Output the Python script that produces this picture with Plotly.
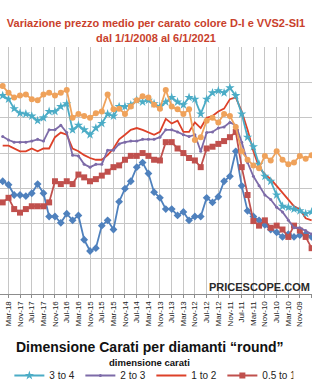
import plotly.graph_objects as go
import pandas as pd

# bimonthly observation dates (first of odd months), Jul-2009 .. May-2018
dates = pd.date_range("2009-07-01", "2018-05-01", freq="2MS")

# % change in average price per carat
s_small = [-33.8,-33.0,-33.3,-33.8,-33.0,-33.8,-32.5,-31.7,-30.4,-29.1,-28.0,-26.4,-19.3,-9.5,-16.6,-18.0,-22.4,-24.0,-22.7,-28.0,
           -28.0,-29.1,-26.7,-27.7,-25.9,-25.9,-22.7,-21.1,-15.8,-12.7,-14.0,-18.0,-20.1,-23.8,-31.7,-29.1,-30.6,-37.0,-37.8,-34.6,
           -27.7,-29.1,-27.2,-29.8,-28.0,-28.0,-21.4,-18.8,-21.4,-22.2,-21.9,-21.9,-19.0,-18.0]
s_05_1 = [-37.0,-33.8,-32.0,-30.6,-33.8,-31.7,-30.6,-31.2,-29.1,-30.6,-29.3,-21.9,-14.0,-4.0,-5.5,-6.6,-7.4,-8.2,-8.7,-14.0,
          -12.1,-11.4,-10.0,-8.7,-6.9,-6.9,-12.1,-11.9,-10.8,-10.0,-10.8,-10.8,-11.9,-13.5,-14.0,-15.3,-16.4,-17.4,-18.0,-16.9,
          -16.1,-18.8,-18.0,-18.8,-18.0,-24.0,-25.1,-25.1,-25.1,-25.9,-26.9,-25.9,-22.7,-24.0]
s_1_2 = [-29.1,-28.5,-25.9,-25.1,-23.2,-21.4,-19.3,-17.4,-16.1,-14.0,-9.5,-3.4,1.8,5.8,5.3,2.6,1.8,0.5,0.0,-2.9,
         -1.3,-4.0,-4.0,-0.8,-1.6,-0.3,-4.0,-4.8,-4.0,-3.4,-2.9,-3.4,-4.8,-6.1,-8.7,-10.6,-11.9,-11.9,-11.4,-10.6,
         -9.5,-8.7,-4.8,-4.2,-5.5,-8.7,-8.7,-9.5,-8.7,-9.5,-9.5,-8.7,-7.9,-7.9]
s_2_3 = [-33.0,-32.0,-31.2,-31.2,-29.1,-26.7,-25.4,-23.2,-21.9,-19.3,-16.6,-12.7,-6.9,-2.1,-1.3,-2.6,-2.9,-4.0,-4.2,-9.5,
         -4.8,-5.3,-4.8,-4.0,-3.4,-3.4,-5.5,-6.1,-6.1,-6.1,-6.6,-6.6,-6.9,-7.4,-9.2,-9.2,-13.2,-13.2,-14.0,-13.2,
         -10.8,-10.6,-4.2,-2.1,-3.4,-3.4,-6.6,-6.1,-6.6,-6.9,-6.9,-6.9,-6.3,-5.3]
s_3_4 = [-26.7,-27.2,-26.4,-25.9,-25.4,-25.1,-21.9,-18.0,-16.6,-13.2,-8.2,-5.5,1.1,6.3,8.5,7.1,7.7,7.1,5.3,1.1,
         5.3,5.8,3.7,4.5,5.8,4.5,3.2,4.0,5.0,4.5,5.0,3.7,3.2,3.2,0.5,1.1,-1.6,-2.9,-4.8,-3.4,
         -2.1,-3.4,4.0,3.2,1.8,1.8,0.0,-0.8,0.5,1.1,1.3,2.6,5.3,6.3]
s_4_5 = [-10.6,-11.6,-10.8,-12.7,-13.2,-11.9,-9.5,-12.1,-10.8,-14.3,-13.5,-11.9,-9.5,-2.6,0.5,1.1,-1.3,0.0,-0.8,-5.5,
         -6.3,2.4,1.1,2.4,3.2,7.9,2.6,3.7,5.8,6.1,5.0,3.2,1.1,2.6,2.4,6.6,1.8,1.3,0.0,0.5,
         1.1,0.0,7.9,7.1,6.3,7.1,6.6,5.0,5.3,6.6,6.3,5.8,7.1,9.0]

FONT = "Liberation Sans, Arial, sans-serif"

fig = go.Figure()
# (name, values, color, marker symbol, marker size, in legend)
spec = [
    ("0.3 to 0.5", s_small, "#4F81BD", "diamond", 6, False),
    ("0.5 to 1", s_05_1, "#C0504D", "square", 6, True),
    ("1 to 2", s_1_2, "#DD4129", None, 0, True),
    ("2 to 3", s_2_3, "#7D6BA8", "circle", 3, True),
    ("3 to 4", s_3_4, "#4BACC6", "star", 7, True),
    ("4 to 5", s_4_5, "#EFA25B", "circle", 6, False),
]
for name, vals, col, sym, size, leg in spec:
    if sym is None:
        fig.add_trace(go.Scatter(x=dates, y=vals, name=name, mode="lines",
                                 line=dict(color=col, width=1.8), showlegend=leg))
    else:
        fig.add_trace(go.Scatter(x=dates, y=vals, name=name, mode="lines+markers",
                                 line=dict(color=col, width=1.8),
                                 marker=dict(symbol=sym, size=size, color=col),
                                 showlegend=leg))

fig.update_layout(
    width=312, height=390,
    margin=dict(l=0, r=0, t=47, b=78),
    paper_bgcolor="white", plot_bgcolor="white",
    font=dict(family=FONT, color="#222"),
    title=dict(text="<b>Variazione prezzo medio per carato colore D-I e VVS2-SI1<br>dal 1/1/2008 al 6/1/2021</b>",
               x=0.5, xanchor="center", y=0.93, yanchor="top", yref="container",
               font=dict(size=11, color="#C9412C", family=FONT)),
    xaxis=dict(type="date", range=["2018-05-29", "2009-06-27"],
               tick0="2009-11-01", dtick="M4", tickformat="%b-%y", tickangle=-90,
               tickfont=dict(size=8, color="#222", family="Liberation Sans, Arial"),
               showgrid=True, gridcolor="#C6C6C6", gridwidth=1.4,
               showline=True, linecolor="#8C8C8C", linewidth=1,
               ticks="outside", ticklen=3, tickcolor="#8C8C8C", zeroline=False),
    yaxis=dict(range=[-50, 20.1], dtick=10, showticklabels=False,
               showgrid=True, gridcolor="#C6C6C6", gridwidth=1.4, zeroline=False),
    legend=dict(orientation="h", x=0.03, xanchor="left", y=-0.33, yanchor="middle",
                traceorder="reversed", font=dict(size=10, color="#222"),
                itemwidth=30, entrywidth=26, entrywidthmode="pixels",
                bgcolor="rgba(0,0,0,0)"),
    showlegend=True,
)

fig.add_annotation(text="<b>PRICESCOPE.COM</b>", xref="paper", yref="paper",
                   x=1.0, y=0.03, xanchor="right", yanchor="middle", showarrow=False,
                   font=dict(size=11, color="#2A2A2A"))
fig.add_annotation(text="<b>Dimensione Carati per diamanti “round”</b>", xref="paper", yref="paper",
                   x=0.48, y=-0.213, xanchor="center", yanchor="middle", showarrow=False,
                   font=dict(size=14, color="#111"))
fig.add_annotation(text="<b>dimensione carati</b>", xref="paper", yref="paper",
                   x=0.48, y=-0.278, xanchor="center", yanchor="middle", showarrow=False,
                   font=dict(size=9.5, color="#111"))

fig.write_html("out.html")
